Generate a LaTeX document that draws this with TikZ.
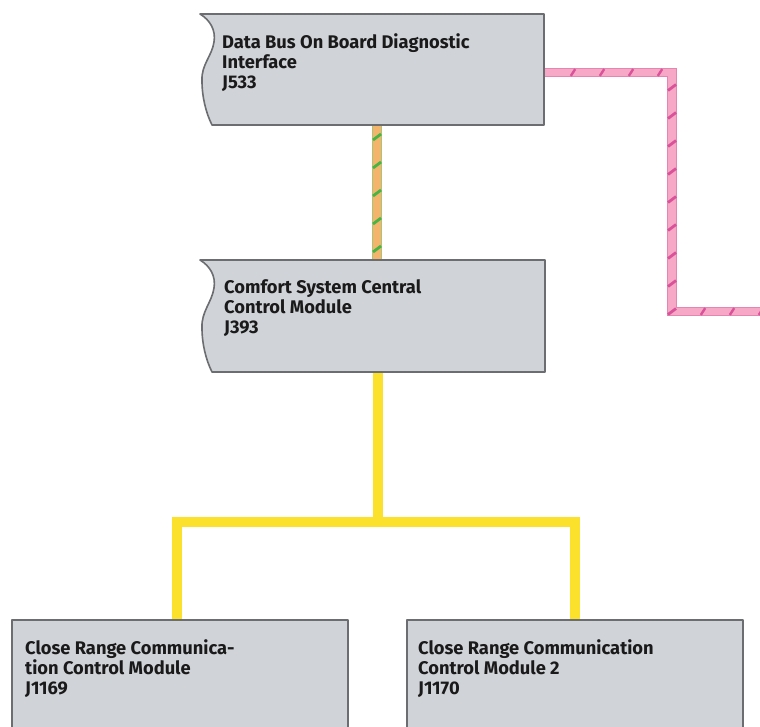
\documentclass[tikz,border=0pt]{standalone}
\usepackage{fontspec}
\setmainfont{Fira Sans}
\usetikzlibrary{decorations.markings,calc}
\definecolor{boxfill}{HTML}{D0D3D7}
\definecolor{boxedge}{HTML}{6B6D70}
\definecolor{ylw}{HTML}{FBE12B}
\definecolor{pinkfill}{HTML}{F6A8C6}
\definecolor{pinkedge}{HTML}{E486B0}
\definecolor{pinkstripe}{HTML}{D9529A}
\definecolor{orng}{HTML}{F4B46C}
\definecolor{orngedge}{HTML}{A9C57A}
\definecolor{grn}{HTML}{45B545}
\definecolor{txtcol}{HTML}{1A1A1A}
\tikzset{
  boxnode/.style={anchor=north west, inner sep=0pt, outer sep=0pt, draw=none, fill=none},
  boxstyle/.style={fill=boxfill, draw=boxedge, line width=1.6pt, line join=round},
  txt/.style={anchor=north west, inner sep=0pt, align=left, text=txtcol,
    font=\bfseries\fontsize{18.3}{20}\selectfont},
  ybus/.style={draw=ylw, line width=10pt},
  obusout/.style={draw=orngedge, line width=10pt},
  obusin/.style={draw=orng, line width=8.4pt},
  pbusout/.style={draw=pinkedge, line width=9.5pt},
  pbusin/.style={draw=pinkfill, line width=7.3pt},
  hstripes/.style={decoration={markings,
      mark=between positions #1 and 1 step 29pt with {\pgftransformresetnontranslations
        \draw[pinkstripe, line width=2.4pt] (-2.2pt,-3.4pt) -- (2.2pt,3.4pt);}},
    postaction={decorate}},
  vstripes/.style 2 args={decoration={markings,
      mark=between positions #2 and 1 step 28pt with {\pgftransformresetnontranslations
        \draw[#1, line width=2.8pt] (-4pt,-3pt) -- (4pt,3pt);}},
    postaction={decorate}},
}
\newcommand{\mywavybox}[3]{%
  \begin{scope}[shift={(#1.north west)}]
    \filldraw[boxstyle] (0,0) -- (#2,0) -- (#2,#3) -- (12,#3)
      .. controls (6,#3-12) and (2,#3-28) .. (2,#3-44)
      .. controls (1,#3-60) and (12,42) .. (14,28)
      .. controls (16,16) and (10,6) .. (0,0) -- cycle;
  \end{scope}}
\begin{document}
\begin{tikzpicture}[x=1pt,y=-1pt]
\clip (0,0) rectangle (760,726);
\fill[white] (0,0) rectangle (760,726);
% box anchors
\node[boxnode, minimum width=344pt, minimum height=111pt] (j533) at (200,14) {};
\node[boxnode, minimum width=345pt, minimum height=112pt] (j393) at (200,260) {};
\node[boxnode, minimum width=336pt, minimum height=120pt] (j1169) at (12,620) {};
\node[boxnode, minimum width=336pt, minimum height=120pt] (j1170) at (407,620) {};
% coordinates for connectors
\coordinate (pkA) at (672,72.5);
\coordinate (pkB) at (672,311.5);
\coordinate (pkend) at (766,311.5);
\coordinate (yj) at (378,522);
% pink bus
\draw[pbusout] ([yshift=-3pt]j533.east) -- (pkA) -- (pkB) -- (pkend);
\draw[pbusin] ([yshift=-3pt]j533.east) -- (pkA) -- (pkB) -- (pkend);
\path[hstripes=29pt] ([yshift=-3pt]j533.east) -- (pkA);
\path[vstripes={pinkstripe}{15pt}] (pkA) -- (pkB);
\path[hstripes=31pt] (pkB) -- (pkend);
% orange/green bus
\draw[obusout] ([xshift=5pt]j533.south) -- ([xshift=4.5pt]j393.north);
\draw[obusin] ([xshift=5pt]j533.south) -- ([xshift=4.5pt]j393.north);
\path[vstripes={grn}{12pt}] ([xshift=5pt]j533.south) -- ([xshift=4.5pt]j393.north);
% yellow bus
\draw[ybus] ([xshift=5.5pt]j393.south) -- (yj);
\draw[ybus] ([xshift=-3pt]j1169.north) |- (yj) -| (j1170.north);
% boxes
\mywavybox{j533}{344}{111}
\mywavybox{j393}{345}{112}
\filldraw[boxstyle] (j1169.north west) rectangle (j1169.south east);
\filldraw[boxstyle] (j1170.north west) rectangle (j1170.south east);
% texts
\node[txt] (j533t) at ([xshift=22pt,yshift=-19pt]j533.north west) {Data Bus On Board Diagnostic\\Interface\\J533};
\node[txt] (j393t) at ([xshift=24pt,yshift=-19pt]j393.north west) {Comfort System Central\\Control Module\\J393};
\node[txt] (j1169t) at ([xshift=13pt,yshift=-19pt]j1169.north west) {Close Range Communica-\\tion Control Module\\J1169};
\node[txt] (j1170t) at ([xshift=11pt,yshift=-19pt]j1170.north west) {Close Range Communication\\Control Module 2\\J1170};
\end{tikzpicture}
\end{document}
